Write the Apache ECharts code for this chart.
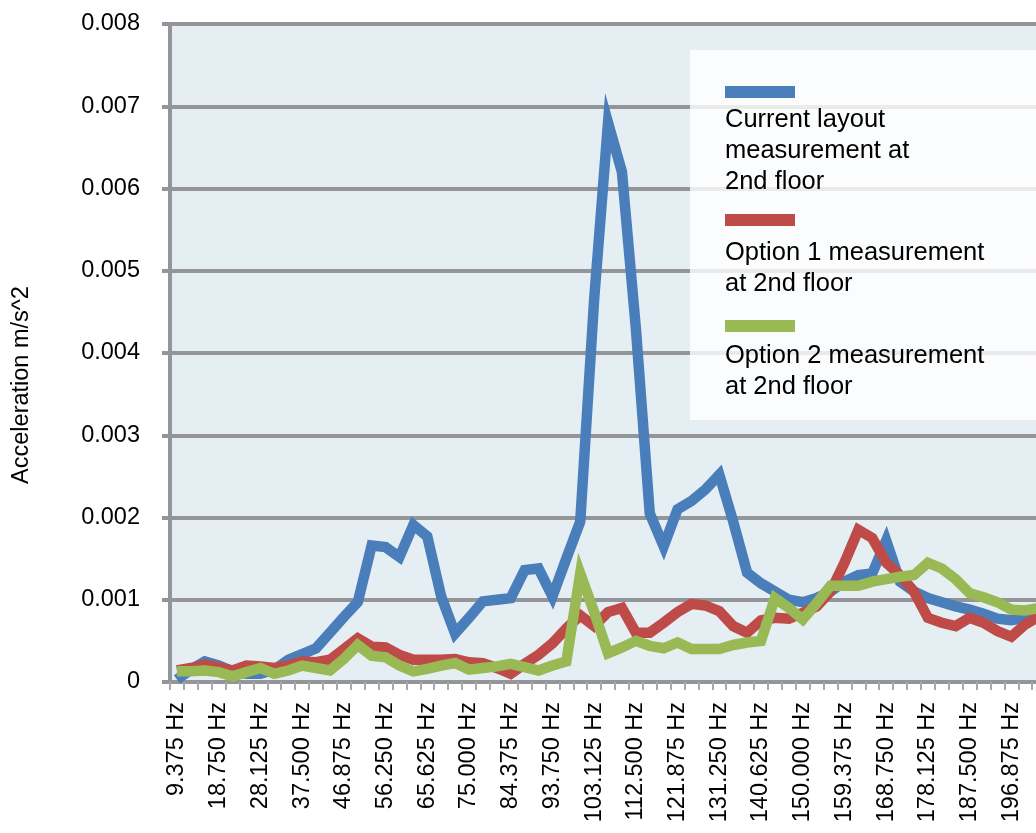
<!DOCTYPE html>
<html>
<head>
<meta charset="utf-8">
<title>Acceleration</title>
<script src="https://cdn.jsdelivr.net/npm/echarts@6/dist/echarts.min.js"></script>
<style>
  html, body { margin: 0; padding: 0; background: #fff; overflow: hidden; }
  /* the plot runs past the right edge of the window, as in the original */
  #chart { width: 1065px; height: 833px; }
</style>
</head>
<body>
<div id="chart"></div>
<script>
// frequency bins (3.125 Hz apart), every 3rd one is labelled
const frequencies = [
  "9.375", "12.500", "15.625", "18.750", "21.875", "25.000", "28.125", "31.250",
  "34.375", "37.500", "40.625", "43.750", "46.875", "50.000", "53.125", "56.250",
  "59.375", "62.500", "65.625", "68.750", "71.875", "75.000", "78.125", "81.250",
  "84.375", "87.500", "90.625", "93.750", "96.875", "100.000", "103.125", "106.250",
  "109.375", "112.500", "115.625", "118.750", "121.875", "125.000", "128.125", "131.250",
  "134.375", "137.500", "140.625", "143.750", "146.875", "150.000", "153.125", "156.250",
  "159.375", "162.500", "165.625", "168.750", "171.875", "175.000", "178.125", "181.250",
  "184.375", "187.500", "190.625", "193.750", "196.875", "200.000", "203.125", "206.250"
];

const currentLayout = [
  0.00003, 0.00015, 0.00025, 0.00020, 0.00013, 0.00010, 0.00010, 0.00015,
  0.00027, 0.00034, 0.00041, 0.00060, 0.00079, 0.00097, 0.00166, 0.00164,
  0.00152, 0.00191, 0.00177, 0.00104, 0.00059, 0.00078, 0.00098, 0.00100,
  0.00102, 0.00136, 0.00138, 0.00104, 0.00150, 0.00195, 0.00465, 0.00680,
  0.00620, 0.00430, 0.00205, 0.00165, 0.00210, 0.00220, 0.00234, 0.00252,
  0.00195, 0.00133, 0.00120, 0.00110, 0.00100, 0.00097, 0.00102, 0.00110,
  0.00122, 0.00130, 0.00132, 0.00172, 0.00122, 0.00110, 0.00102, 0.00097,
  0.00092, 0.00088, 0.00083, 0.00077, 0.00075, 0.00078, 0.00080, 0.00080
];

const option1 = [
  0.00014, 0.00017, 0.00021, 0.00018, 0.00014, 0.00020, 0.00019, 0.00017,
  0.00020, 0.00025, 0.00024, 0.00027, 0.00040, 0.00053, 0.00043, 0.00042,
  0.00033, 0.00027, 0.00027, 0.00027, 0.00028, 0.00024, 0.00023, 0.00017,
  0.00010, 0.00022, 0.00033, 0.00047, 0.00065, 0.00081, 0.00068, 0.00085,
  0.00090, 0.00060, 0.00060, 0.00072, 0.00085, 0.00095, 0.00093, 0.00086,
  0.00068, 0.00060, 0.00075, 0.00078, 0.00077, 0.00084, 0.00092, 0.00110,
  0.00145, 0.00185, 0.00175, 0.00145, 0.00130, 0.00110, 0.00078, 0.00072,
  0.00068, 0.00078, 0.00072, 0.00062, 0.00055, 0.00070, 0.00080, 0.00080
];

const option2 = [
  0.00013, 0.00013, 0.00014, 0.00012, 0.00007, 0.00012, 0.00017, 0.00010,
  0.00014, 0.00020, 0.00017, 0.00014, 0.00028, 0.00045, 0.00032, 0.00030,
  0.00020, 0.00013, 0.00016, 0.00020, 0.00023, 0.00015, 0.00017, 0.00019,
  0.00022, 0.00018, 0.00014, 0.00020, 0.00025, 0.00132, 0.00085, 0.00035,
  0.00042, 0.00050, 0.00044, 0.00041, 0.00048, 0.00040, 0.00040, 0.00040,
  0.00045, 0.00048, 0.00050, 0.00102, 0.00090, 0.00076, 0.00096, 0.00117,
  0.00117, 0.00117, 0.00122, 0.00125, 0.00128, 0.00130, 0.00145, 0.00138,
  0.00125, 0.00108, 0.00103, 0.00097, 0.00088, 0.00087, 0.00090, 0.00090
];

const seriesNames = [
  "Current layout\nmeasurement at\n2nd floor",
  "Option 1 measurement\nat 2nd floor",
  "Option 2 measurement\nat 2nd floor"
];
const colors = ["#4a7ebb", "#be4b48", "#98b954"];

const font = "'Liberation Sans', Arial, Helvetica, sans-serif";
const gridColor = "#949598";

let chart = echarts.init(document.getElementById("chart"));

let makeLine = function (name, data, color) {
  return {
    name: name,
    type: "line",
    data: data,
    showSymbol: false,
    smooth: false,
    animation: false,
    lineStyle: { color: color, width: 10.5, join: "miter", miterLimit: 10 },
    itemStyle: { color: color }
  };
};

// legend drawn by hand: swatch above a wrapped label, like the original
let legendItems = [];
let swatchY = [86, 214, 320];
let textY = [104, 237, 340];
for (let i = 0; i < seriesNames.length; i++) {
  legendItems.push({
    type: "rect", z: 6,
    shape: { x: 725, y: swatchY[i], width: 70, height: 12 },
    style: { fill: colors[i] }
  });
  legendItems.push({
    type: "text", x: 725, y: textY[i], z: 6,
    style: { text: seriesNames[i], fill: "#000", font: "25.5px " + font, lineHeight: 31 }
  });
}

let option = {
  backgroundColor: "#ffffff",
  animation: false,
  grid: {
    left: 170,
    right: 0,
    top: 24,
    height: 658,
    show: true,
    backgroundColor: "#e5eef2",
    borderWidth: 0
  },
  xAxis: {
    type: "category",
    data: frequencies,
    boundaryGap: true,
    axisLine: { show: true, lineStyle: { color: gridColor, width: 4 } },
    axisTick: { show: true, interval: 0, length: 8, lineStyle: { color: "#a7a8ab", width: 2 } },
    axisLabel: {
      interval: 2,
      rotate: 90,
      margin: 20,
      color: "#000",
      fontFamily: font,
      fontSize: 23.5,
      formatter: function (v) { return v + " Hz"; }
    },
    splitLine: { show: false }
  },
  yAxis: {
    type: "value",
    min: 0,
    max: 0.008,
    interval: 0.001,
    axisLine: { show: true, lineStyle: { color: gridColor, width: 4 } },
    axisTick: { show: true, length: 8, lineStyle: { color: gridColor, width: 4 } },
    axisLabel: {
      margin: 30,
      color: "#000",
      fontFamily: font,
      fontSize: 23.5,
      formatter: function (v) { return v === 0 ? "0" : v.toFixed(3); }
    },
    splitLine: { show: true, lineStyle: { color: gridColor, width: 4 } }
  },
  series: [
    makeLine(seriesNames[0], currentLayout, colors[0]),
    makeLine(seriesNames[1], option1, colors[1]),
    makeLine(seriesNames[2], option2, colors[2])
  ],
  graphic: [
    {
      type: "text",
      x: 22,
      y: 385,
      rotation: Math.PI / 2,
      style: {
        text: "Acceleration m/s^2",
        fill: "#000",
        font: "23.5px " + font,
        textAlign: "center",
        textVerticalAlign: "middle"
      }
    },
    {
      type: "rect", z: 5,
      shape: { x: 690, y: 50, width: 400, height: 370 },
      style: { fill: "rgba(255,255,255,0.8)" }
    }
  ].concat(legendItems)
};

chart.setOption(option);
</script>
</body>
</html>
